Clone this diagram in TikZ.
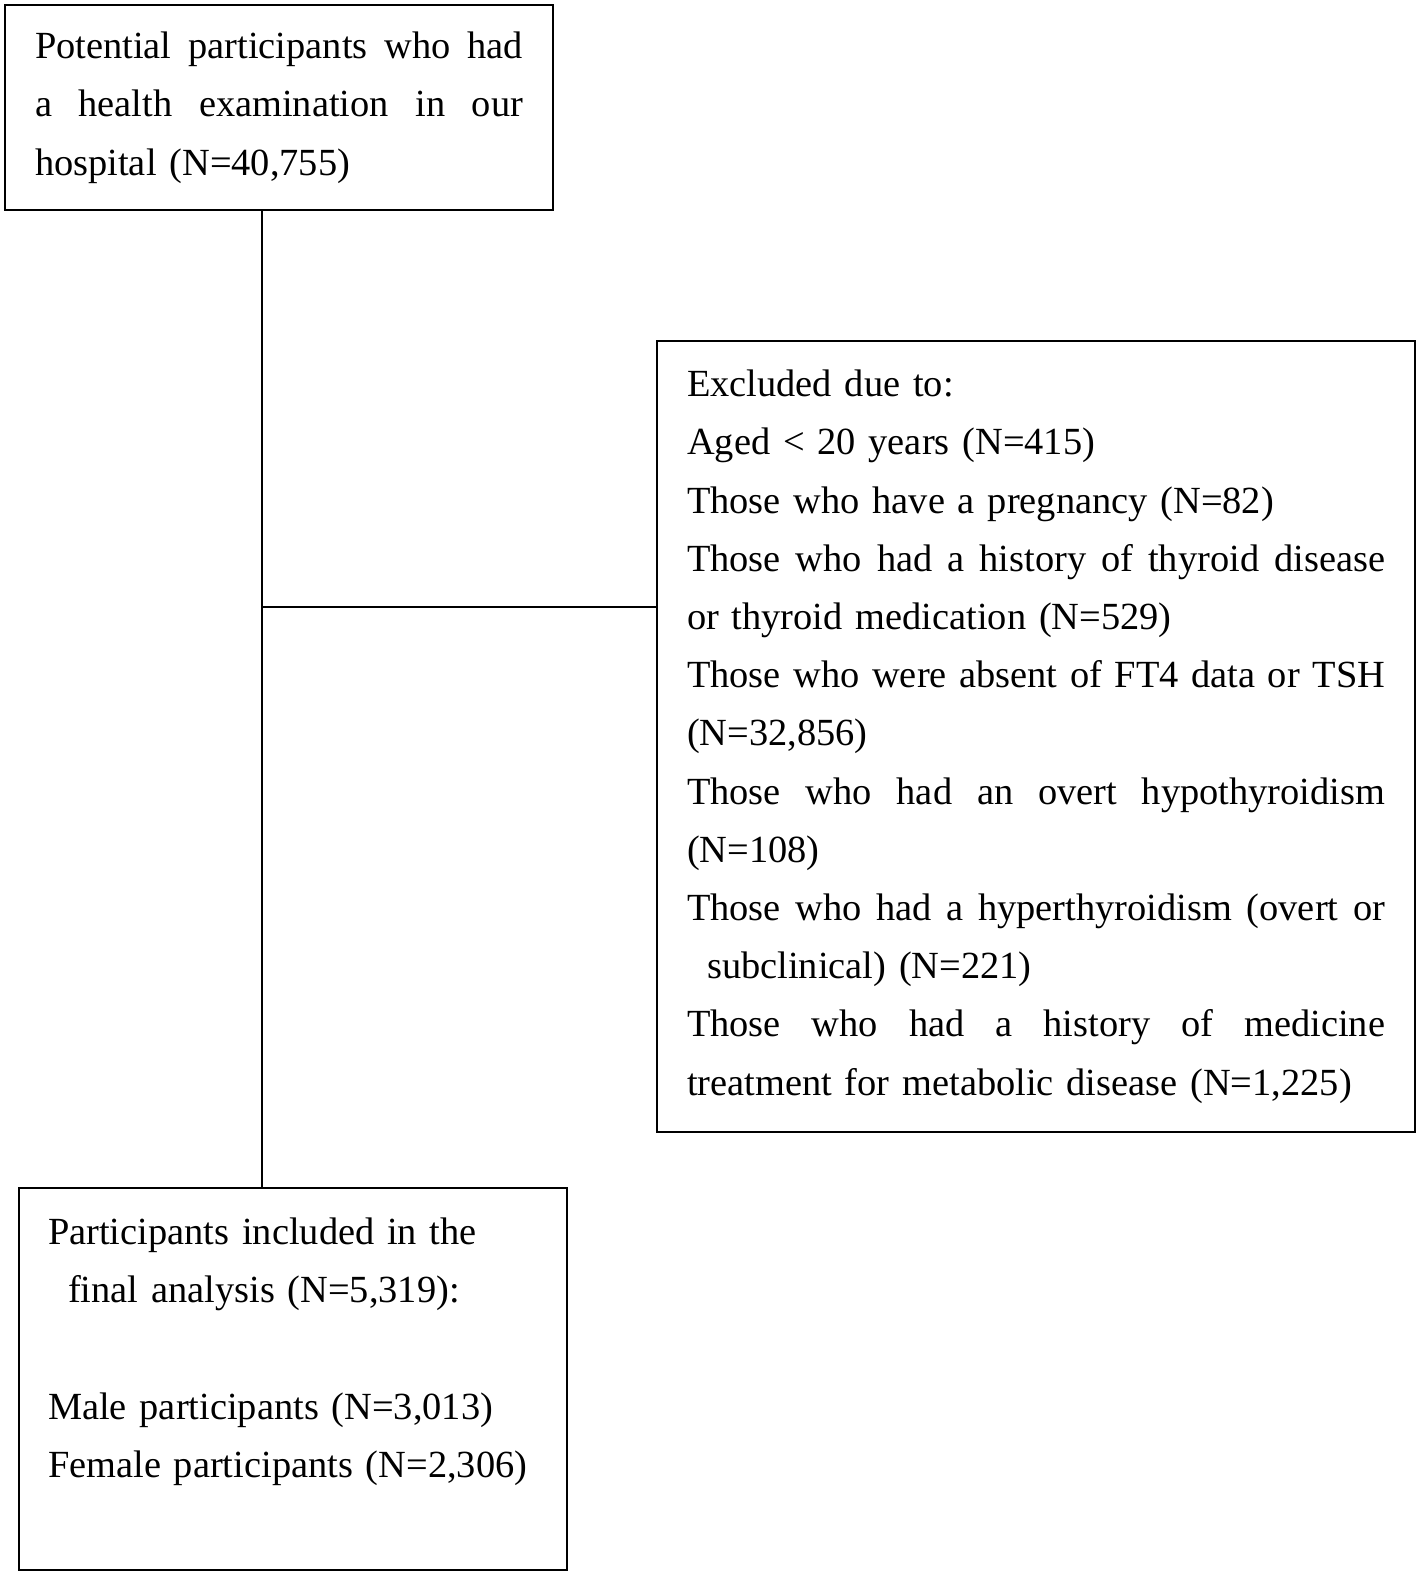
\documentclass[tikz,border=0pt]{standalone}
\usepackage{fontspec}
\setmainfont{Liberation Serif}
\usetikzlibrary{positioning}
\newcommand{\spreadline}[1]{\makebox[\hsize][s]{\spaceskip=0pt\xspaceskip=0pt #1}}

\begin{document}
\begin{tikzpicture}[x=1pt,y=-1pt,
    flowbox/.style={draw, line width=2.2pt, anchor=north west, inner ysep=0pt,
        align=left, font=\fontsize{38.4}{58.2}\selectfont},
    link/.style={line width=2.2pt}]
    \useasboundingbox (0,0) rectangle (1418,1574);
    % boxes
    \node[flowbox, inner xsep=30pt, text width=488pt, minimum height=205pt] (potential) at (4,4)
        {\spreadline{Potential participants who had}\\
         \spreadline{a health examination in our}\\
         hospital (N=40,755)};
    \node[flowbox, inner xsep=30pt, text width=698pt, minimum height=791pt] (excluded) at (656,340)
        {Excluded due to:\\
         Aged < 20 years (N=415)\\
         Those who have a pregnancy (N=82)\\
         \spreadline{Those who had a history of thyroid disease}\\
         or thyroid medication (N=529)\\
         \spreadline{Those who were absent of FT4 data or TSH}\\
         (N=32,856)\\
         \spreadline{Those who had an overt hypothyroidism}\\
         (N=108)\\
         \spreadline{Those who had a hyperthyroidism (overt or}\\
         \hspace*{20pt}subclinical) (N=221)\\
         \spreadline{Those who had a history of medicine}\\
         treatment for metabolic disease (N=1,225)};
    \node[flowbox, inner xsep=29pt, text width=490pt, minimum height=382pt] (final) at (18,1187)
        {Participants included in the\\
         \hspace*{20pt}final analysis (N=5,319):\\[58.2pt]
         Male participants (N=3,013)\\
         Female participants (N=2,306)\\[5pt]
         \mbox{}};
    % connectors
    \coordinate (split) at (262,607);
    \draw[link] (split |- potential.south) -- (split |- final.north);
    \draw[link] (split) -- (split -| excluded.west);
\end{tikzpicture}
\end{document}
